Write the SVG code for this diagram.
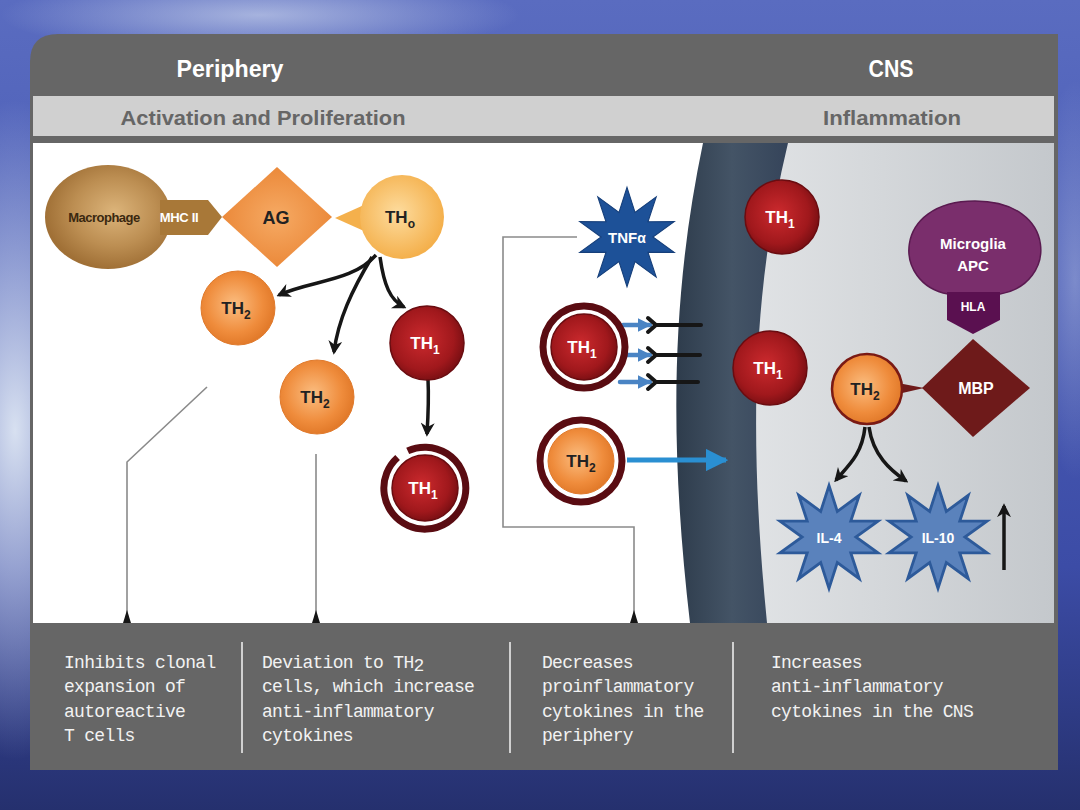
<svg xmlns="http://www.w3.org/2000/svg" width="1080" height="810" viewBox="0 0 1080 810">
<defs>
<linearGradient id="bg" x1="0" y1="0" x2="0" y2="1">
<stop offset="0" stop-color="#5a6cc0"/>
<stop offset="0.35" stop-color="#4a5cb6"/>
<stop offset="0.7" stop-color="#3c4ca6"/>
<stop offset="1" stop-color="#25306e"/>
</linearGradient>
<radialGradient id="glow" cx="0.5" cy="0.5" r="0.5">
<stop offset="0" stop-color="#e8f0f8" stop-opacity="0.9"/>
<stop offset="1" stop-color="#e8f0f8" stop-opacity="0"/>
</radialGradient>
<radialGradient id="gOrange" cx="0.45" cy="0.45" r="0.55">
<stop offset="0" stop-color="#fbbd80"/>
<stop offset="0.7" stop-color="#ef8c3c"/>
<stop offset="1" stop-color="#e27a2a"/>
</radialGradient>
<radialGradient id="gRed" cx="0.45" cy="0.45" r="0.55">
<stop offset="0" stop-color="#cc2a2e"/>
<stop offset="0.75" stop-color="#a0181c"/>
<stop offset="1" stop-color="#7e1014"/>
</radialGradient>
<radialGradient id="gTH0" cx="0.45" cy="0.45" r="0.55">
<stop offset="0" stop-color="#fddc9e"/>
<stop offset="1" stop-color="#f4b04c"/>
</radialGradient>
<radialGradient id="gMac" cx="0.55" cy="0.45" r="0.55">
<stop offset="0" stop-color="#dcb47a"/>
<stop offset="0.6" stop-color="#bc8e52"/>
<stop offset="1" stop-color="#a07036"/>
</radialGradient>
<radialGradient id="gAG" cx="0.5" cy="0.5" r="0.55">
<stop offset="0" stop-color="#f6aa64"/>
<stop offset="1" stop-color="#ea8636"/>
</radialGradient>
<linearGradient id="gBar" x1="0" y1="0" x2="1" y2="0">
<stop offset="0" stop-color="#2e3c4c"/>
<stop offset="0.5" stop-color="#445466"/>
<stop offset="1" stop-color="#35445a"/>
</linearGradient>
<linearGradient id="gCNS" x1="0" y1="0" x2="1" y2="0">
<stop offset="0" stop-color="#e6e8ea"/>
<stop offset="1" stop-color="#c4c8cc"/>
</linearGradient>
<path id="star" d="M0,-46 L7.42,-22.82 L27.05,-37.21 L19.42,-14.11 L43.75,-14.21 L24,0 L43.75,14.21 L19.42,14.11 L27.05,37.21 L7.42,22.82 L0,46 L-7.42,22.82 L-27.05,37.21 L-19.42,14.11 L-43.75,14.21 L-24,0 L-43.75,-14.21 L-19.42,-14.11 L-27.05,-37.21 L-7.42,-22.82 Z"/>
<marker id="ah" viewBox="0 0 10 10" refX="8" refY="5" markerWidth="4" markerHeight="4" orient="auto" markerUnits="strokeWidth">
<path d="M0,0 L10,5 L0,10 L3,5 Z" fill="#161616"/>
</marker>
<marker id="ahBlue" viewBox="0 0 10 10" refX="9" refY="5" markerWidth="4.5" markerHeight="4.5" orient="auto" markerUnits="strokeWidth">
<path d="M0,0 L10,5 L0,10 Z" fill="#2a8fd2"/>
</marker>
<marker id="ahSmallBlue" viewBox="0 0 10 10" refX="9" refY="5" markerWidth="3" markerHeight="3" orient="auto" markerUnits="strokeWidth">
<path d="M0,0 L10,5 L0,10 Z" fill="#4a84c4"/>
</marker>
<style>
.lbl{font-family:"Liberation Sans",Arial,sans-serif;font-weight:bold;text-anchor:middle}
.dk{fill:#222}
.wt{fill:#fff}
.sub{font-size:12px}
.head{font-family:"Liberation Sans",Arial,sans-serif;font-weight:bold;text-anchor:middle}
.note{font-family:"Liberation Mono","DejaVu Sans Mono",monospace;font-size:18px;fill:#f2f2f2;letter-spacing:-0.7px}
.red{fill:url(#gRed);stroke:#6a0c10;stroke-width:1.5}
.org{fill:url(#gOrange);stroke:#e07a2c;stroke-width:1}
.ring{fill:none;stroke:#5a0c12;stroke-width:7}
.blk{fill:none;stroke:#161616;stroke-width:3.5;marker-end:url(#ah)}
.guide{fill:none;stroke:#8a8a8a;stroke-width:1.6}
</style>
</defs>

<!-- slide background -->
<rect x="0" y="0" width="1080" height="810" fill="url(#bg)"/>
<ellipse cx="15" cy="430" rx="110" ry="330" fill="url(#glow)"/>
<ellipse cx="260" cy="15" rx="260" ry="40" fill="url(#glow)" opacity="0.6"/>
<ellipse cx="1075" cy="280" rx="40" ry="200" fill="url(#glow)" opacity="0.35"/>

<!-- panel -->
<path d="M30,62 Q30,34 58,34 L1058,34 L1058,770 L30,770 Z" fill="#666"/>
<rect x="33" y="96" width="1021" height="40" fill="#d0d0d0"/>
<rect x="33" y="143" width="1021" height="480" fill="#ffffff"/>
<path d="M703,143 L1054,143 L1054,623 L690,623 Z" fill="url(#gCNS)"/>
<path d="M703,143 C670,300 670,450 690,623 L767,623 C750,450 750,300 788,143 Z" fill="url(#gBar)"/>

<text class="head" x="230" y="77" font-size="24" fill="#fff" textLength="107" lengthAdjust="spacingAndGlyphs">Periphery</text>
<text class="head" x="891" y="77" font-size="24" fill="#fff" textLength="45" lengthAdjust="spacingAndGlyphs">CNS</text>
<text class="head" x="263" y="125" font-size="21" fill="#666" textLength="285" lengthAdjust="spacingAndGlyphs">Activation and Proliferation</text>
<text class="head" x="892" y="125" font-size="21" fill="#666" textLength="138" lengthAdjust="spacingAndGlyphs">Inflammation</text>

<!-- connectors -->
<g id="connectors">
<path class="guide" d="M207,387 L127,462 L127,616"/>
<path class="guide" d="M316,454 L316,616"/>
<path class="guide" d="M577,237 L503,237 L503,527 L634,527 L634,616"/>
<path d="M123,623 L127,610 L131,623 Z" fill="#161616"/>
<path d="M312,623 L316,610 L320,623 Z" fill="#161616"/>
<path d="M630,623 L634,610 L638,623 Z" fill="#161616"/>

<path class="blk" d="M376,255 C352,282 312,280 279,295"/>
<path class="blk" d="M372,257 C352,290 338,320 334,352"/>
<path class="blk" d="M380,257 C384,285 390,300 404,307"/>
<path class="blk" d="M428,379 C429,400 428,418 427,434"/>

<g stroke-linecap="round">
<line x1="623" y1="325" x2="650" y2="325" stroke="#4a84c4" stroke-width="4.5" marker-end="url(#ahSmallBlue)"/>
<line x1="623" y1="355" x2="650" y2="355" stroke="#4a84c4" stroke-width="4.5" marker-end="url(#ahSmallBlue)"/>
<line x1="620" y1="382" x2="650" y2="382" stroke="#4a84c4" stroke-width="4.5" marker-end="url(#ahSmallBlue)"/>
<path d="M648,318 L656,325 L648,332 M656,325 L701,325" fill="none" stroke="#161616" stroke-width="4"/>
<path d="M648,348 L656,355 L648,362 M656,355 L700,355" fill="none" stroke="#161616" stroke-width="4"/>
<path d="M648,375 L656,382 L648,389 M656,382 L698,382" fill="none" stroke="#161616" stroke-width="4"/>
</g>
<line x1="627" y1="460" x2="726" y2="460" stroke="#2a8fd2" stroke-width="5" marker-end="url(#ahBlue)"/>

<path class="blk" d="M865,427 C862,455 848,466 836,480"/>
<path class="blk" d="M869,427 C873,455 890,470 906,481"/>
<path class="blk" d="M1004,570 L1004,506"/>
</g>

<!-- periphery nodes -->
<g id="macrophage">
<ellipse cx="108" cy="217" rx="63" ry="52" fill="url(#gMac)"/>
<polygon points="160,200 208,200 222,217 208,235 160,235" fill="#a87838"/>
<text class="lbl" x="104" y="222" font-size="13" fill="#3a2810" letter-spacing="-0.5">Macrophage</text>
<text class="lbl" x="179" y="222" font-size="13" fill="#fff" letter-spacing="-0.3">MHC II</text>
</g>
<g id="ag">
<polygon points="222,217 277,167 332,217 277,267" fill="url(#gAG)"/>
<text class="lbl dk" x="276" y="224" font-size="18">AG</text>
</g>
<g id="th0">
<polygon points="335,218 364,205 364,231" fill="#f4b04c"/>
<circle cx="402" cy="217" r="42" fill="url(#gTH0)"/>
<text class="lbl dk" x="400" y="223" font-size="17">TH<tspan class="sub" dy="5">o</tspan></text>
</g>
<g id="th2-a">
<circle cx="238" cy="308" r="37" class="org"/>
<text class="lbl dk" x="236" y="314" font-size="17">TH<tspan class="sub" dy="5">2</tspan></text>
</g>
<g id="th2-b">
<circle cx="317" cy="397" r="37" class="org"/>
<text class="lbl dk" x="315" y="403" font-size="17">TH<tspan class="sub" dy="5">2</tspan></text>
</g>
<g id="th1-a">
<circle cx="427" cy="343" r="37" class="red"/>
<text class="lbl wt" x="425" y="349" font-size="17">TH<tspan class="sub" dy="5">1</tspan></text>
</g>
<g id="th1-ring">
<path class="ring" d="M407.7,450.9 A41,41 0 1 1 397.6,457.5"/>
<circle cx="425" cy="488" r="33" class="red"/>
<text class="lbl wt" x="423" y="494" font-size="17">TH<tspan class="sub" dy="5">1</tspan></text>
</g>

<g id="tnfa">
<use href="#star" transform="translate(627,237) scale(1.08)" fill="#1d5198" stroke="#163f7a" stroke-width="1"/>
<text class="lbl wt" x="627" y="243" font-size="15">TNF<tspan font-size="14">α</tspan></text>
</g>
<g id="th1-mid">
<circle cx="584" cy="347" r="41" class="ring"/>
<circle cx="584" cy="347" r="33" class="red"/>
<text class="lbl wt" x="582" y="353" font-size="17">TH<tspan class="sub" dy="5">1</tspan></text>
</g>
<g id="th2-mid">
<circle cx="581" cy="461" r="41" class="ring"/>
<circle cx="581" cy="461" r="33" class="org"/>
<text class="lbl dk" x="581" y="467" font-size="17">TH<tspan class="sub" dy="5">2</tspan></text>
</g>

<!-- CNS nodes -->
<g id="th1-cns-a">
<circle cx="782" cy="217" r="37" class="red"/>
<text class="lbl wt" x="780" y="223" font-size="17">TH<tspan class="sub" dy="5">1</tspan></text>
</g>
<g id="th1-cns-b">
<circle cx="770" cy="368" r="37" class="red"/>
<text class="lbl wt" x="768" y="374" font-size="17">TH<tspan class="sub" dy="5">1</tspan></text>
</g>
<g id="microglia">
<path d="M948,294 C892,284 892,201 975,201 C1058,201 1058,284 1000,294 Z" fill="#7a2e6c" stroke="#5a1a50" stroke-width="1.5"/>
<polygon points="947,292 1000,292 1000,320 973,334 947,320" fill="#5a1050"/>
<text class="lbl wt" x="973" y="249" font-size="15">Microglia</text>
<text class="lbl wt" x="973" y="271" font-size="15">APC</text>
<text class="lbl wt" x="973" y="311" font-size="12">HLA</text>
</g>
<g id="mbp">
<polygon points="973,339 1030,388 973,437 922,388" fill="#6e1a1a"/>
<text class="lbl wt" x="976" y="394" font-size="16">MBP</text>
</g>
<g id="th2-cns">
<polygon points="898,383 924,388 898,394" fill="#6e1a1a"/>
<circle cx="867" cy="389" r="35" fill="url(#gOrange)" stroke="#7a1a14" stroke-width="2.5"/>
<text class="lbl dk" x="865" y="395" font-size="17">TH<tspan class="sub" dy="5">2</tspan></text>
</g>
<g id="il4">
<use href="#star" transform="translate(829,537) scale(1.12)" fill="#5a82bc" stroke="#2d5a9a" stroke-width="2.5"/>
<text class="lbl wt" x="829" y="543" font-size="14">IL-4</text>
</g>
<g id="il10">
<use href="#star" transform="translate(938,537) scale(1.12)" fill="#5a82bc" stroke="#2d5a9a" stroke-width="2.5"/>
<text class="lbl wt" x="938" y="543" font-size="14">IL-10</text>
</g>

<!-- bottom notes -->
<g id="notes">
<line x1="242" y1="642" x2="242" y2="753" stroke="#d0d0d0" stroke-width="2"/>
<line x1="510" y1="642" x2="510" y2="753" stroke="#d0d0d0" stroke-width="2"/>
<line x1="733" y1="642" x2="733" y2="753" stroke="#d0d0d0" stroke-width="2"/>
<text class="note" x="64" y="668">Inhibits clonal</text>
<text class="note" x="64" y="692">expansion of</text>
<text class="note" x="64" y="717">autoreactive</text>
<text class="note" x="64" y="741">T cells</text>
<text class="note" x="262" y="668">Deviation to TH<tspan dy="3">2</tspan></text>
<text class="note" x="262" y="692">cells, which increase</text>
<text class="note" x="262" y="717">anti-inflammatory</text>
<text class="note" x="262" y="741">cytokines</text>
<text class="note" x="542" y="668">Decreases</text>
<text class="note" x="542" y="692">proinflammatory</text>
<text class="note" x="542" y="717">cytokines in the</text>
<text class="note" x="542" y="741">periphery</text>
<text class="note" x="771" y="668">Increases</text>
<text class="note" x="771" y="692">anti-inflammatory</text>
<text class="note" x="771" y="717">cytokines in the CNS</text>
</g>
</svg>
